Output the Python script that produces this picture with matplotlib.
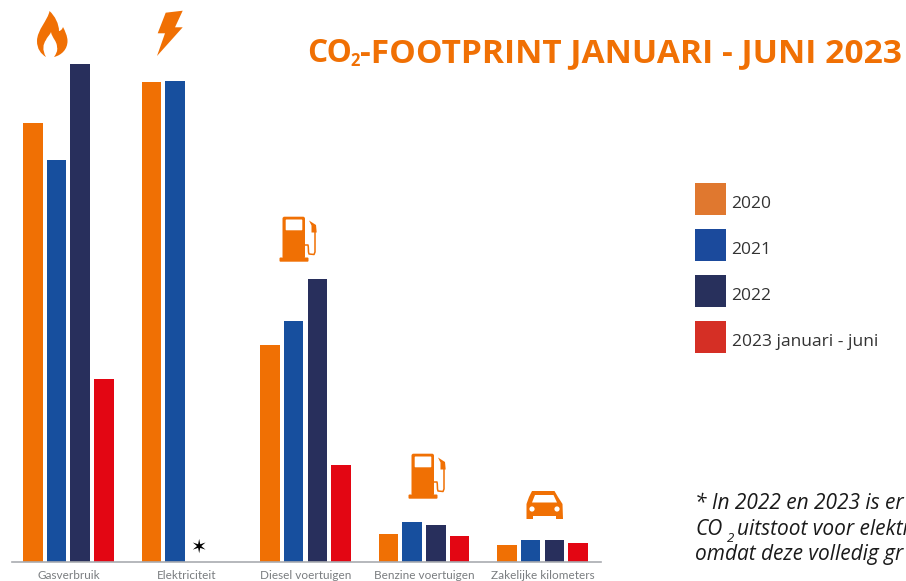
import matplotlib
matplotlib.use("Agg")
import matplotlib.pyplot as plt
from matplotlib.patches import Circle, FancyBboxPatch, PathPatch, Polygon, Rectangle
from matplotlib.path import Path
import numpy as np

# Data (no y axis in the original, values are bar heights)
categories = ['Gasverbruik', 'Elektriciteit', 'Diesel voertuigen', 'Benzine voertuigen', 'Zakelijke kilometers']
co2_2020 = [439, 480, 217, 28, 17]
co2_2021 = [402, 481, 241, 40, 22]
co2_2022 = [498, 0, 283, 37, 22.5]
co2_2023 = [183, 0, 97, 26, 19]
series_labels = ['2020', '2021', '2022', '2023 januari - juni']

ORANGE = '#F07004'
bar_colors = [ORANGE, '#174F9E', '#282F5C', '#E30613']
legend_colors = ['#E0782F', '#1B4A9C', '#28305C', '#D52F25']

W, H = 906, 581
fig = plt.figure(figsize=(W / 100, H / 100), dpi=100)

# Bars
ax = fig.add_axes([12 / W, (H - 562) / H, (601 - 12) / W, 520 / H])
x = np.arange(len(categories))
for i, values in enumerate([co2_2020, co2_2021, co2_2022, co2_2023]):
    ax.bar(x + (i - 1.5) * 0.2, values, width=0.165, color=bar_colors[i])
ax.set_xlim(-0.476, 4.494)
ax.set_ylim(0, 520)
ax.set_xticks(x)
ax.set_xticklabels(categories, family='Lato', fontsize=8.5, color='#7a7d80')
ax.tick_params(axis='x', length=0, pad=6)
ax.set_yticks([])
for side in ['top', 'left', 'right']:
    ax.spines[side].set_visible(False)
ax.spines['bottom'].set_color('#a9abb0')
ax.spines['bottom'].set_linewidth(1.2)
ax.text(1 + 0.1, 15, '\u2736', ha='center', va='center', fontsize=14, color='black', family='DejaVu Sans')

# Overlay in pixel coordinates for icons, title, legend and note
ov = fig.add_axes([0, 0, 1, 1])
ov.set_xlim(0, W)
ov.set_ylim(H, 0)
ov.axis('off')
ov.patch.set_alpha(0)


def flame():
    verts = [(49.5, 11), (48, 20), (37, 30), (37, 41), (37, 49), (41, 54), (46, 57),
             (42, 50), (43, 44), (46, 40), (47, 37), (50, 35), (51, 32),
             (52, 38), (57, 41), (57, 47), (58, 51), (56, 54), (54, 57),
             (62, 55), (67.5, 49), (67.5, 41), (67.5, 36), (65, 31), (63, 27),
             (62, 30), (60, 31), (59, 31), (59, 24), (55, 16), (49.5, 11)]
    codes = [Path.MOVETO] + [Path.CURVE4] * 30
    ov.add_patch(PathPatch(Path(verts, codes), fc=ORANGE, ec='none'))


def bolt():
    pts = [(165.7, 12.7), (182.7, 10.7), (175, 27.3), (182.7, 27.3), (157, 56), (165, 33.3), (157.7, 33.3)]
    ov.add_patch(Polygon(pts, closed=True, fc=ORANGE, ec='none'))


def pump(dx, dy):
    ov.add_patch(FancyBboxPatch((282.5 + dx, 216.7 + dy), 22.5, 42, boxstyle='round,pad=0,rounding_size=2',
                                fc=ORANGE, ec='none'))
    ov.add_patch(FancyBboxPatch((279.5 + dx, 257.5 + dy), 29, 4.2, boxstyle='round,pad=0,rounding_size=1',
                                fc=ORANGE, ec='none'))
    ov.add_patch(FancyBboxPatch((285.7 + dx, 219.5 + dy), 16.6, 10.8, boxstyle='round,pad=0,rounding_size=0.8',
                                fc='white', ec='none'))
    hose = [(305, 245), (308, 245), (308.3, 247), (308.5, 252), (309, 254), (314, 254.5), (315, 252), (315, 230)]
    ov.plot([p[0] + dx for p in hose], [p[1] + dy for p in hose], color=ORANGE, lw=1.1)
    nozzle = [(309, 220.5), (316, 225), (316.7, 232.5), (311.5, 232.5), (311.5, 225.5)]
    ov.add_patch(Polygon([(p[0] + dx, p[1] + dy) for p in nozzle], closed=True, fc=ORANGE, ec='none'))


def car():
    body = [(532, 491), (554.5, 491), (558, 497), (562.5, 504), (563, 519), (556, 519), (556, 516),
            (533, 516), (533, 519), (526.5, 519), (526.5, 504), (529, 497)]
    ov.add_patch(Polygon(body, closed=True, fc=ORANGE, ec='none', joinstyle='round'))
    window = [(535, 495), (553.5, 495), (557, 502.5), (532, 502.5)]
    ov.add_patch(Polygon(window, closed=True, fc='white', ec='none'))
    ov.add_patch(Circle((532, 509), 2.6, fc='white', ec='none'))
    ov.add_patch(Circle((557, 509), 2.6, fc='white', ec='none'))


flame()
bolt()
pump(0, 0)
pump(129, 237)
car()

# Title, the subscript is a separate piece of text
title_kw = dict(family='Open Sans', fontweight='bold', color=ORANGE, va='baseline')
ov.text(307.5, 62, 'CO', fontsize=22.8, **title_kw)
ov.text(350, 66, '2', fontsize=12, **title_kw)
ov.text(360, 62, '-FOOTPRINT JANUARI - JUNI 2023', fontsize=24.1, **title_kw)

# Legend
legend_y = [183, 229, 275, 321]
for label, color, y in zip(series_labels, legend_colors, legend_y):
    ov.add_patch(Rectangle((695, y), 31, 31.5, fc=color, ec='none'))
    ov.text(731.5, y + 21, label, family='Open Sans', fontsize=12.5, color='#333333', va='center')

# Note, the original is cut off by the right edge of the picture
note_kw = dict(family='Open Sans', style='italic', fontsize=15, color='#1a1a1a', va='baseline')
ov.text(695, 509, '* In 2022 en 2023 is er', **note_kw)
ov.text(695, 535, 'CO', **note_kw)
ov.text(727, 542, '2', family='Open Sans', style='italic', fontsize=9.5, color='#1a1a1a', va='baseline')
ov.text(737, 535, 'uitstoot voor elektr', **note_kw)
ov.text(695, 560, 'omdat deze volledig gr', **note_kw)

plt.savefig('out.png', dpi=100)
